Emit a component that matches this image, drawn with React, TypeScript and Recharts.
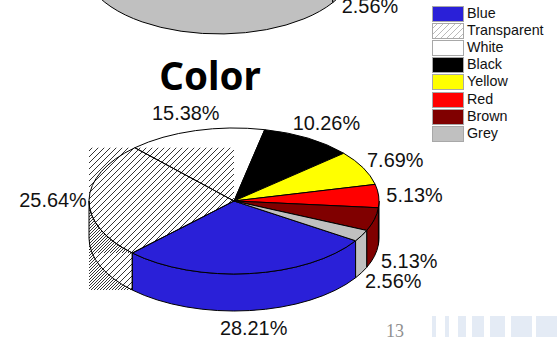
import { PieChart, Pie, Legend } from 'recharts'

const SLICE_NAMES = ['Blue', 'Transparent', 'White', 'Black', 'Yellow', 'Red', 'Brown', 'Grey']
const SLICE_VALUES = [28.21, 25.64, 15.38, 10.26, 7.69, 5.13, 5.13, 2.56]
const SLICE_FILLS = ['#2a20d8', 'url(#hatch)', '#ffffff', '#000000', '#ffff00', '#ff0000', '#800000', '#c0c0c0']

const UPPER_NAMES = ['Grey', 'Other']
const UPPER_VALUES = [97.44, 2.56]

const slices = SLICE_NAMES.map((name, i) => ({ name, value: SLICE_VALUES[i], fill: SLICE_FILLS[i] }))
const upperSlices = UPPER_NAMES.map((name, i) => ({ name, value: UPPER_VALUES[i], fill: '#c0c0c0' }))

const FOOTER_BARS = [
  [432, 4], [445, 4], [458, 8], [472, 12], [490, 15], [511, 21], [536, 21],
]

const LABEL_FONT = '"Liberation Sans", Arial, sans-serif'
const SQUASH = 73 / 145

const rad = (deg: number) => (deg * Math.PI) / 180

// Screen angle runs clockwise from 3 o'clock, the opposite of what Recharts hands over
function rimPoint(cx: number, cy: number, rx: number, ry: number, deg: number) {
  return [cx + rx * Math.cos(rad(deg)), cy + ry * Math.sin(rad(deg))]
}

function arcPath(cx: number, cy: number, rx: number, ry: number, from: number, to: number) {
  const [x, y] = rimPoint(cx, cy, rx, ry, to)
  return `A${rx} ${ry} 0 ${to - from > 180 ? 1 : 0} 1 ${x} ${y}`
}

function HatchLayer(depth: number) {
  return (props: any) => {
    const { cx, cy, outerRadius: rx, startAngle, endAngle, fill } = props
    if (fill !== 'url(#hatch)') return <g />
    const ry = rx * SQUASH
    const a0 = -startAngle
    const a1 = -endAngle
    const [sx, sy] = rimPoint(cx, cy, rx, ry, a0)
    const [, ey] = rimPoint(cx, cy, rx, ry, a1)
    const left = cx - rx
    const bottom = sy + depth
    return (
      <g>
        <rect x={left} y={ey} width={cx - left} height={bottom - ey} fill="url(#hatch)" />
        {/* the wall gets hatched twice: under the top rim and under the bottom rim */}
        <path d={`M${left} ${cy}A${rx} ${ry} 0 0 0 ${sx} ${sy}L${left} ${sy}Z`} fill="url(#hatchWall)" />
        <path
          d={`M${left} ${cy + depth}A${rx} ${ry} 0 0 0 ${sx} ${bottom}L${left} ${bottom}Z`}
          fill="url(#hatchWall)"
        />
      </g>
    )
  }
}

function SolidLayer(depth: number) {
  return (props: any) => {
    const { cx, cy, outerRadius: rx, startAngle, endAngle, fill } = props
    const ry = rx * SQUASH
    const a0 = -startAngle
    const a1 = -endAngle
    const paint = fill === 'url(#hatch)' || fill === '#ffffff' ? 'none' : fill
    const walls: string[] = []
    for (const [r0, r1] of [[0, 180], [360, 540]]) {
      const lo = Math.max(a0, r0)
      const hi = Math.min(a1, r1)
      if (hi <= lo) continue
      const [x0, y0] = rimPoint(cx, cy, rx, ry, lo)
      const [x1, y1] = rimPoint(cx, cy, rx, ry, hi)
      walls.push(
        `M${x0} ${y0}${arcPath(cx, cy, rx, ry, lo, hi)}L${x1} ${y1 + depth}` +
          `A${rx} ${ry} 0 0 0 ${x0} ${y0 + depth}Z`
      )
    }
    const [sx, sy] = rimPoint(cx, cy, rx, ry, a0)
    return (
      <g>
        {walls.map((d) => (
          <path key={d} d={d} fill={paint} stroke="#000" strokeWidth={1} />
        ))}
        <path
          d={`M${cx} ${cy}L${sx} ${sy}${arcPath(cx, cy, rx, ry, a0, a1)}Z`}
          fill={paint}
          stroke="#000"
          strokeWidth={1}
        />
      </g>
    )
  }
}

function valueLabel(depth: number, only?: string) {
  return (props: any) => {
    const { cx, cy, outerRadius: rx, midAngle, value, name } = props
    if (only && name !== only) return <g />
    const ry = rx * SQUASH
    const mid = -midAngle
    const [px, py] = rimPoint(cx, cy, rx, ry, mid)
    const sin = Math.sin(rad(mid))
    const x = px + 36 * Math.cos(rad(mid))
    const y = py + 18 * sin + (sin > 0.1 ? depth : 0)
    return (
      <text x={x} y={y} textAnchor="middle" dominantBaseline="central" fontFamily={LABEL_FONT} fontSize={19.9} fill="#111">
        {value.toFixed(2)}%
      </text>
    )
  }
}

function LegendBox() {
  return (
    <div style={{ fontFamily: LABEL_FONT, fontSize: 14.3, color: '#111' }}>
      {SLICE_NAMES.map((name, i) => (
        <div key={name} style={{ display: 'flex', alignItems: 'center', height: 17.2 }}>
          <svg width={32} height={16} style={{ marginRight: 3, display: 'block' }}>
            <rect
              x={0.5}
              y={0.5}
              width={31}
              height={15}
              fill={SLICE_FILLS[i] === 'url(#hatch)' ? 'url(#hatchKey)' : SLICE_FILLS[i]}
              stroke="#a8a8a8"
            />
          </svg>
          <span style={{ position: 'relative', top: -1 }}>{name}</span>
        </div>
      ))}
    </div>
  )
}

export default function App() {
  return (
    <div style={{ position: 'absolute', left: 0, top: 0, width: 557, height: 337, overflow: 'hidden', background: '#fff' }}>
      <PieChart width={557} height={337} margin={{ top: 0, right: 0, bottom: 0, left: 0 }}>
        <defs>
          <pattern id="hatch" patternUnits="userSpaceOnUse" width={6} height={6}>
            <path d="M0 6L6 0" stroke="#000" strokeWidth={0.8} />
          </pattern>
          <pattern id="hatchWall" patternUnits="userSpaceOnUse" width={6} height={6} patternTransform="translate(3 0)">
            <path d="M0 6L6 0" stroke="#000" strokeWidth={0.8} />
          </pattern>
          <pattern id="hatchKey" patternUnits="userSpaceOnUse" width={6} height={6}>
            <path d="M0 6L6 0" stroke="#bbb" strokeWidth={1} />
          </pattern>
        </defs>

        <Pie
          data={upperSlices}
          dataKey="value"
          nameKey="name"
          cx={219}
          cy={-70}
          outerRadius={135}
          startAngle={-32.6}
          endAngle={-392.6}
          shape={SolidLayer(36)}
          inactiveShape={SolidLayer(36)}
          label={valueLabel(36, 'Other')}
          labelLine={false}
          legendType="none"
          isAnimationActive={false}
        />
        <Pie
          data={slices}
          dataKey="value"
          nameKey="name"
          cx={234}
          cy={201}
          outerRadius={145}
          startAngle={-33}
          endAngle={-393}
          shape={HatchLayer(37)}
          inactiveShape={HatchLayer(37)}
          label={false}
          labelLine={false}
          legendType="none"
          isAnimationActive={false}
        />
        <Pie
          data={slices}
          dataKey="value"
          nameKey="name"
          cx={234}
          cy={201}
          outerRadius={145}
          startAngle={-33}
          endAngle={-393}
          shape={SolidLayer(37)}
          inactiveShape={SolidLayer(37)}
          label={valueLabel(37)}
          labelLine={false}
          isAnimationActive={false}
        />

        <text x={210} y={90} textAnchor="middle" fontFamily='"Noto Sans", sans-serif' fontWeight={700} fontSize={38.5} fill="#000">
          Color
        </text>

        <text x={395} y={337} textAnchor="middle" fontFamily='"Liberation Serif", serif' fontSize={18} fill="#8f8f8f">
          13
        </text>
        {FOOTER_BARS.map(([x, w]) => (
          <rect key={x} x={x} y={316} width={w} height={21} fill="#e4ebf5" />
        ))}

        <Legend
          content={LegendBox}
          wrapperStyle={{ position: 'absolute', left: 432, top: 5, width: 125, height: 140, bottom: 'auto', right: 'auto' }}
        />
      </PieChart>
    </div>
  )
}
